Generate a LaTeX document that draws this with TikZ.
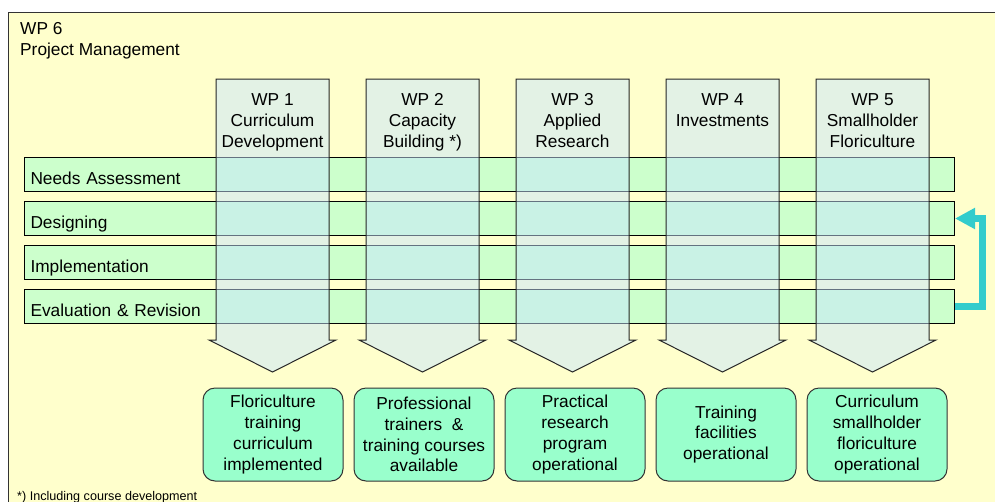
\documentclass[tikz,border=0pt]{standalone}
\usepackage{fontspec}
\setmainfont{Liberation Sans}
\usetikzlibrary{arrows.meta,positioning}
\definecolor{pmbg}{RGB}{255,255,204}
\definecolor{phasegreen}{RGB}{204,255,204}
\definecolor{wpblue}{RGB}{200,230,255}
\definecolor{resultgreen}{RGB}{153,255,204}
\definecolor{loopcyan}{RGB}{51,204,204}
\newcommand{\wpfont}{\fontsize{17.3pt}{20.7pt}\selectfont}

\begin{document}
\begin{tikzpicture}[
    x=1pt, y=-1pt,
    frame/.style={draw=black!80, line width=1pt, fill=pmbg},
    phase/.style={draw, line width=1pt, fill=phasegreen, anchor=west,
      minimum height=34pt, text width=918pt, inner xsep=6pt, inner ysep=0pt,
      text height=20pt, text depth=0pt, align=left, font=\wpfont},
    wpcol/.style={draw=black!85, line width=1pt, fill=wpblue, fill opacity=0.5},
    wphead/.style={anchor=north, align=center, inner sep=0pt, font=\wpfont},
    result/.style={draw=black!80, line width=1pt, fill=resultgreen,
      rounded corners=12pt, minimum width=140pt, minimum height=93pt,
      align=center, inner sep=0pt, font=\wpfont},
    feedback/.style={loopcyan, line width=7pt,
      -{Triangle[length=20pt, width=20pt]}}
  ]
  \useasboundingbox (0,0) rectangle (995,501);
  \fill[white] (0,0) rectangle (995,501);

  % WP 6 frame
  \draw[frame] (8,12) rectangle (1010,520);
  \node[anchor=north west, align=left, inner sep=0pt, font=\wpfont]
    (wp6) at (20,22.6) {WP 6\\Project Management};

  % phases
  \node[phase] (needs) at (24,174) {Needs Assessment};
  \node[phase] (design) at (24,218.5) {Designing};
  \node[phase] (impl) at (24,262.5) {Implementation};
  \node[phase] (eval) at (24,306.5) {Evaluation \& Revision};

  % work package arrows
  \draw[wpcol] (216,79) -- (329,79) -- (329,340) -- (336,340)
    -- (272.5,372) -- (209,340) -- (216,340) -- cycle;
  \draw[wpcol, xshift=150pt] (216,79) -- (329,79) -- (329,340) -- (336,340)
    -- (272.5,372) -- (209,340) -- (216,340) -- cycle;
  \draw[wpcol, xshift=300pt] (216,79) -- (329,79) -- (329,340) -- (336,340)
    -- (272.5,372) -- (209,340) -- (216,340) -- cycle;
  \draw[wpcol, xshift=450pt] (216,79) -- (329,79) -- (329,340) -- (336,340)
    -- (272.5,372) -- (209,340) -- (216,340) -- cycle;
  \draw[wpcol, xshift=600pt] (216,79) -- (329,79) -- (329,340) -- (336,340)
    -- (272.5,372) -- (209,340) -- (216,340) -- cycle;

  \node[wphead] (wp1) at (272.5,93.6) {WP 1\\Curriculum\\Development};
  \node[wphead] (wp2) at (422.5,93.6) {WP 2\\Capacity\\Building *)};
  \node[wphead] (wp3) at (572.5,93.6) {WP 3\\Applied\\Research};
  \node[wphead] (wp4) at (722.5,93.6) {WP 4\\Investments};
  \node[wphead] (wp5) at (872.5,93.6) {WP 5\\Smallholder\\Floriculture};

  % results
  \node[result] (res1) at (273,434.5) {Floriculture\\training\\curriculum\\implemented};
  \node[result, right=10pt of res1] (res2) {Professional\\trainers\ \ \&\\training courses\\available};
  \node[result, right=10pt of res2] (res3) {Practical\\research\\program\\operational};
  \node[result, right=10pt of res3] (res4) {Training\\facilities\\operational};
  \node[result, right=10pt of res4] (res5) {Curriculum\\smallholder\\floriculture\\operational};

  % feedback loop
  \draw[feedback] (eval.east) -- ++(27,0) |- (design.east);

  % footnote
  \node[anchor=base west, inner sep=0pt, font=\fontsize{12.6pt}{15pt}\selectfont]
    (note) at (17,500) {*) Including course development};
\end{tikzpicture}
\end{document}
